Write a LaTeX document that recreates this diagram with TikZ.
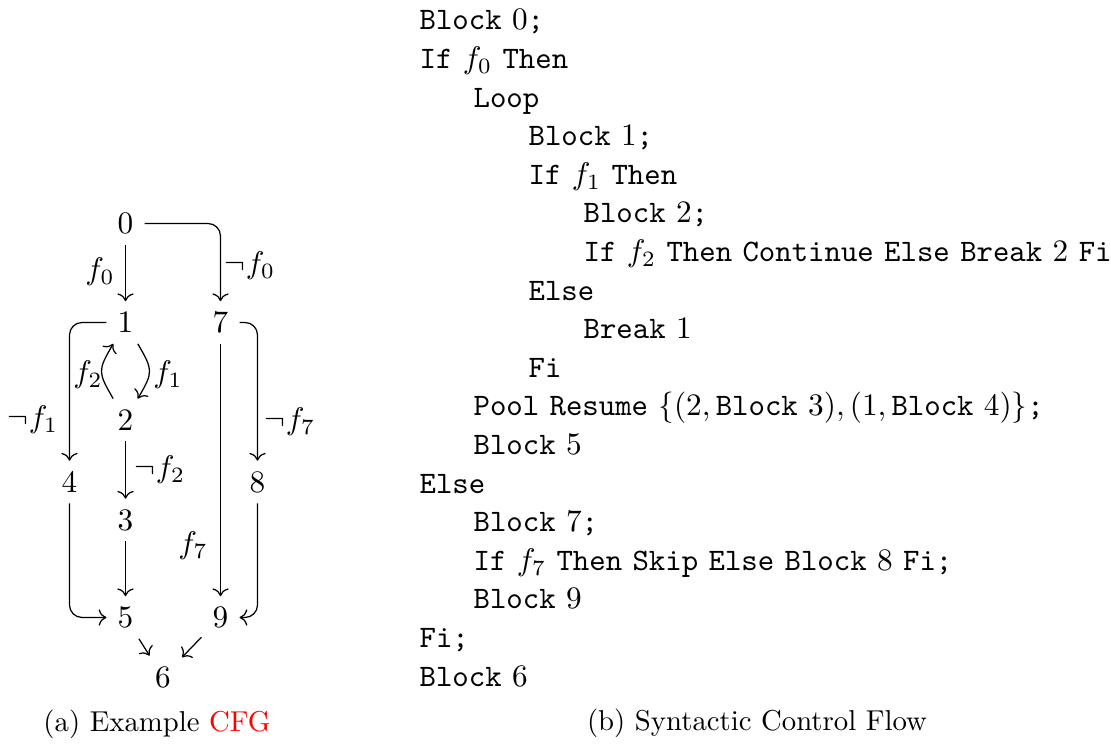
\documentclass[tikz,border=0pt]{standalone}
\usetikzlibrary{arrows.meta}
\newcommand{\kw}[1]{\texttt{#1}}
\begin{document}
\begin{tikzpicture}[x=0.32pt,y=0.32pt,
  cfg/.style={inner sep=3.4pt},
  lbl/.style={inner sep=0pt},
  arr/.style={-{Computer Modern Rightarrow}, line width=0.4pt},
  rc/.style={rounded corners=4pt},
  code/.style={anchor=base west, inner sep=0pt},
  captext/.style={anchor=base, inner sep=0pt, scale=0.92, transform shape}]
\useasboundingbox (0,0) rectangle (1111,-745);
% CFG nodes
\node[cfg] (n0) at (125.5,-223.5) {$0$};
\node[cfg] (n1) at (125.5,-322.5) {$1$};
\node[cfg] (n7) at (220.5,-322.5) {$7$};
\node[cfg] (n2) at (125.5,-420) {$2$};
\node[cfg] (n4) at (69.5,-482) {$4$};
\node[cfg] (n8) at (257.5,-482) {$8$};
\node[cfg] (n3) at (125.5,-520) {$3$};
\node[cfg] (n5) at (125.5,-617.5) {$5$};
\node[cfg] (n9) at (220.5,-617.5) {$9$};
\node[cfg] (n6) at (163,-677) {$6$};
% edges
\draw[arr] (n0) -- (n1);
\draw[arr,rc] (n0) -| (n7);
\draw[arr,rc] (n1) -| (n4);
\draw[arr,rc] (n7) -| (n8);
\draw[arr,rc] (n4) |- (n5);
\draw[arr,rc] (n8) |- (n9);
\draw[arr] (n1) to[bend left=30, looseness=1.45] (n2);
\draw[arr] (n2) to[bend left=30, looseness=1.45] (n1);
\draw[arr] (n2) -- (n3);
\draw[arr] (n3) -- (n5);
\draw[arr] (n7) -- (n9);
\draw[arr] (n5) -- (n6);
\draw[arr] (n9) -- (n6);
% labels
\node[lbl] (l0) at (100,-272) {$f_0$};
\node[lbl] (l0n) at (250,-266) {$\neg f_0$};
\node[lbl] (l2) at (88,-375) {$f_2$};
\node[lbl] (l1) at (168,-375) {$f_1$};
\node[lbl] (l1n) at (33,-420) {$\neg f_1$};
\node[lbl] (l7n) at (290,-422) {$\neg f_7$};
\node[lbl] (l2n) at (160,-470) {$\neg f_2$};
\node[lbl] (l7) at (193,-546) {$f_7$};
% code
\node[code] (c0) at (419,-30) {\kw{Block} $0$\kw{;}};
\node[code] (c1) at (419,-68.6) {\kw{If} $f_0$ \kw{Then}};
\node[code] (c2) at (473,-107.2) {\kw{Loop}};
\node[code] (c3) at (528,-145.8) {\kw{Block} $1$\kw{;}};
\node[code] (c4) at (528,-184.4) {\kw{If} $f_1$ \kw{Then}};
\node[code] (c5) at (583,-223) {\kw{Block} $2$\kw{;}};
\node[code] (c6) at (583,-261.6) {\kw{If} $f_2$ \kw{Then} \kw{Continue} \kw{Else} \kw{Break} $2$ \kw{Fi}};
\node[code] (c7) at (528,-300.2) {\kw{Else}};
\node[code] (c8) at (583,-338.8) {\kw{Break} $1$};
\node[code] (c9) at (528,-377.4) {\kw{Fi}};
\node[code] (c10) at (473,-416) {\kw{Pool} \kw{Resume} $\{(2,\mathtt{Block}\ 3),(1,\mathtt{Block}\ 4)\}$\kw{;}};
\node[code] (c11) at (473,-454.6) {\kw{Block} $5$};
\node[code] (c12) at (419,-493.2) {\kw{Else}};
\node[code] (c13) at (473,-531.8) {\kw{Block} $7$\kw{;}};
\node[code] (c14) at (473,-570.4) {\kw{If} $f_7$ \kw{Then} \kw{Skip} \kw{Else} \kw{Block} $8$ \kw{Fi}\kw{;}};
\node[code] (c15) at (473,-609) {\kw{Block} $9$};
\node[code] (c16) at (419,-647.6) {\kw{Fi}\kw{;}};
\node[code] (c17) at (419,-686.2) {\kw{Block} $6$};
% captions
\node[captext] (capa) at (157,-732) {(a) Example \textcolor{red}{CFG}};
\node[captext] (capb) at (757,-731) {(b) Syntactic Control Flow};
\end{tikzpicture}
\end{document}
